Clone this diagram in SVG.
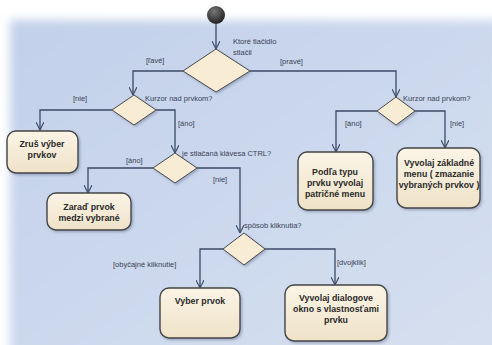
<svg xmlns="http://www.w3.org/2000/svg" width="492" height="345" viewBox="0 0 492 345">
<defs>
<linearGradient id="bg" x1="0" y1="0" x2="1" y2="1">
<stop offset="0" stop-color="#c2d0ea"/>
<stop offset="1" stop-color="#d6e0f0"/>
</linearGradient>
<filter id="soft" x="-10%" y="-10%" width="120%" height="120%"><feGaussianBlur stdDeviation="5"/></filter>
<linearGradient id="nodeFill" x1="0" y1="0" x2="0" y2="1">
<stop offset="0" stop-color="#fbf4e6"/>
<stop offset="1" stop-color="#efe2c8"/>
</linearGradient>
<radialGradient id="startFill" cx="0.4" cy="0.3" r="0.7">
<stop offset="0" stop-color="#777"/>
<stop offset="1" stop-color="#222"/>
</radialGradient>
<filter id="shadow" x="-20%" y="-20%" width="140%" height="140%"><feDropShadow dx="1.5" dy="1.5" stdDeviation="1.2" flood-color="#6a7890" flood-opacity="0.5"/></filter>
<marker id="arr" viewBox="0 0 10 10" refX="10" refY="5" markerWidth="8" markerHeight="8" markerUnits="userSpaceOnUse" orient="auto">
<path d="M0,0 L10,5 L0,10" fill="none" stroke="#3b4a66" stroke-width="1.4"/>
</marker>
</defs>
<style>
.box{fill:url(#nodeFill);stroke:#444;stroke-width:1.4;filter:url(#shadow)}
.dia{fill:#f8ecd4;stroke:#4a4a4a;stroke-width:1;filter:url(#shadow)}
.bt{font-family:"Liberation Sans",Arial,sans-serif;font-size:8.8px;font-weight:bold;fill:#2a2a2a;text-anchor:middle}
.lb{font-family:"Liberation Sans",Arial,sans-serif;font-size:7.5px;fill:#3a4256}
.ln{fill:none;stroke:#3b4a66;stroke-width:1.3;marker-end:url(#arr)}
</style>
<rect width="492" height="345" fill="#ffffff"/>
<rect x="10" y="20" width="490" height="340" fill="url(#bg)" filter="url(#soft)"/>

<g id="connectors">
<path class="ln" d="M216,24 V49"/>
<path class="ln" d="M183,71 H133 V95"/>
<path class="ln" d="M250,71 H396 V97"/>
<path class="ln" d="M112,110 H40 V130"/>
<path class="ln" d="M156,110 H175 V153"/>
<path class="ln" d="M153,168 H88 V193"/>
<path class="ln" d="M197,168 H240 V233"/>
<path class="ln" d="M223,249 H200 V288"/>
<path class="ln" d="M265,249 H335 V285"/>
<path class="ln" d="M377,111 H336 V152"/>
<path class="ln" d="M415,111 H445 V148"/>
</g>

<g id="start"><circle cx="216" cy="15" r="9" fill="url(#startFill)"/></g>

<g id="d1">
<polygon class="dia" points="216,49 250,71 216,92 183,71"/>
<text class="lb" x="233" y="44">Ktoré tlačidlo</text>
<text class="lb" x="233" y="55">stlačil</text>
</g>
<g id="d2">
<polygon class="dia" points="134,95 156,110 134,125 112,110"/>
<text class="lb" x="145" y="101">Kurzor nad prvkom?</text>
</g>
<g id="d3">
<polygon class="dia" points="175,153 197,168 175,183 153,168"/>
<text class="lb" x="182" y="156">je stlačaná klávesa CTRL?</text>
</g>
<g id="d4">
<polygon class="dia" points="244,233 265,249 244,265 223,249"/>
<text class="lb" x="244" y="228">spôsob kliknutia?</text>
</g>
<g id="d5">
<polygon class="dia" points="396,97 415,111 396,125 377,111"/>
<text class="lb" x="403" y="101">Kurzor nad prvkom?</text>
</g>

<g id="labels">
<text class="lb" x="146" y="63">[ľavé]</text>
<text class="lb" x="280" y="64">[pravé]</text>
<text class="lb" x="73" y="101">[nie]</text>
<text class="lb" x="178" y="126">[áno]</text>
<text class="lb" x="126" y="163">[áno]</text>
<text class="lb" x="213" y="182">[nie]</text>
<text class="lb" x="113" y="267">[obyčajné kliknutie]</text>
<text class="lb" x="337" y="265">[dvojklik]</text>
<text class="lb" x="345" y="126">[áno]</text>
<text class="lb" x="450" y="126">[nie]</text>
</g>

<g id="n1">
<rect class="box" x="7" y="131" width="71" height="42" rx="9"/>
<text class="bt" x="42" y="147">Zruš výber</text>
<text class="bt" x="42" y="158">prvkov</text>
</g>
<g id="n2">
<rect class="box" x="47" y="193" width="84" height="37" rx="9"/>
<text class="bt" x="89" y="210">Zaraď prvok</text>
<text class="bt" x="89" y="221">medzi vybrané</text>
</g>
<g id="n3">
<rect class="box" x="298" y="152" width="75" height="58" rx="9"/>
<text class="bt" x="335" y="175">Podľa typu</text>
<text class="bt" x="335" y="186">prvku vyvolaj</text>
<text class="bt" x="335" y="197">patričné menu</text>
</g>
<g id="n4">
<rect class="box" x="397" y="148" width="83" height="60" rx="9"/>
<text class="bt" x="439" y="166">Vyvolaj základné</text>
<text class="bt" x="439" y="177">menu ( zmazanie</text>
<text class="bt" x="439" y="188">vybraných prvkov )</text>
</g>
<g id="n5">
<rect class="box" x="160" y="288" width="80" height="50" rx="9"/>
<text class="bt" x="200" y="304">Vyber prvok</text>
</g>
<g id="n6">
<rect class="box" x="285" y="285" width="102" height="56" rx="9"/>
<text class="bt" x="336" y="301">Vyvolaj dialogove</text>
<text class="bt" x="336" y="312">okno s vlastnosťami</text>
<text class="bt" x="336" y="323">prvku</text>
</g>
</svg>
